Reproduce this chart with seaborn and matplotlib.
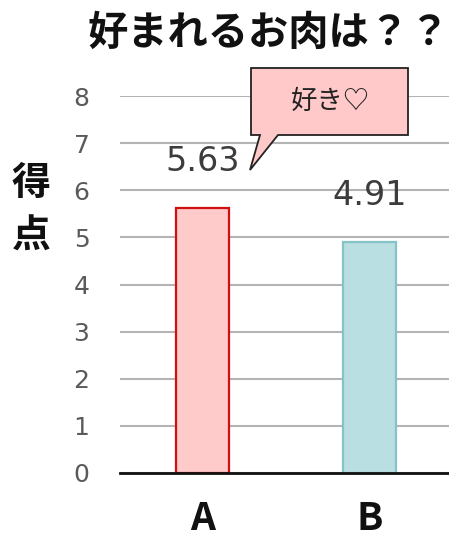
import matplotlib
matplotlib.use("Agg")
import matplotlib.pyplot as plt
from matplotlib.patches import Polygon
import seaborn as sns
import pandas as pd

# --- data ---
categories = ["A", "B"]
scores = [5.63, 4.91]
fill_colors = ["#FFCACA", "#B9DFE3"]
edge_colors = ["#D01010", "#86C3C7"]
y_ticks = [0, 1, 2, 3, 4, 5, 6, 7, 8]
title_text = "好まれるお肉は？？"
ylabel_text = "得\n点"
callout_text = "好き♡"

sns.set_theme(style="white")
plt.rcParams["font.family"] = ["Noto Sans CJK JP", "DejaVu Sans"]

W, H = 449, 543
fig = plt.figure(figsize=(W / 100, H / 100), dpi=100)
ax = fig.add_axes([120 / W, 1 - 473 / H, 1 - 120 / W, (473 - 96) / H])

df = pd.DataFrame({"cat": categories, "score": scores})
sns.barplot(data=df, x="cat", y="score", hue="cat", palette=fill_colors,
            saturation=1, width=0.32, legend=False, ax=ax, zorder=3)
for patch, ec in zip(ax.patches, edge_colors):
    patch.set_edgecolor(ec)
    patch.set_linewidth(1.6)

ax.set_xlim(-0.494, 1.476)
ax.set_ylim(0, 8)
ax.set_yticks(y_ticks)
ax.set_yticklabels([str(v) for v in y_ticks], family="DejaVu Sans",
                   fontsize=18, color="#5a5a5a")
ax.set_xticks(range(len(categories)))
ax.set_xticklabels(categories, fontsize=28, fontweight="bold", color="#111111")
ax.tick_params(axis="y", length=0, pad=22)
ax.tick_params(axis="x", length=0, pad=19)
ax.set_xlabel("")
ax.set_ylabel("")

# horizontal gridlines
ax.yaxis.grid(True, color="#b4b4b4", linewidth=1.5, zorder=0)
ax.set_axisbelow(True)
for side in ["top", "right", "left"]:
    ax.spines[side].set_visible(False)
ax.spines["bottom"].set_color("#111111")
ax.spines["bottom"].set_linewidth(2)
ax.spines["bottom"].set_zorder(4)

# value labels above bars
for i, v in enumerate(scores):
    ax.annotate(f"{v:.2f}", xy=(i, v), xytext=(0, 33), textcoords="offset points",
                ha="center", va="center", fontsize=24, color="#3c3c3c",
                family="DejaVu Sans")

# title and stacked y label
fig.text(269 / W, 1 - 33 / H, title_text, ha="center", va="center",
         fontsize=29, fontweight="bold", color="#111111")
fig.text(31 / W, 1 - 210 / H, ylabel_text, ha="center", va="center",
         fontsize=28, fontweight="bold", color="#111111", linespacing=1.45)

# speech-bubble callout
pts = [(251, 68), (408, 68), (408, 135), (278, 135), (250, 170), (260, 135), (251, 135)]
bubble = Polygon([(x / W, 1 - y / H) for x, y in pts], closed=True,
                 facecolor="#FFC9C9", edgecolor="#222222", linewidth=1.3,
                 transform=fig.transFigure, zorder=10)
fig.patches.append(bubble)
fig.text(330 / W, 1 - 101 / H, callout_text, ha="center", va="center",
         fontsize=19, color="#222222", zorder=11)

fig.savefig("out.png", dpi=100)
